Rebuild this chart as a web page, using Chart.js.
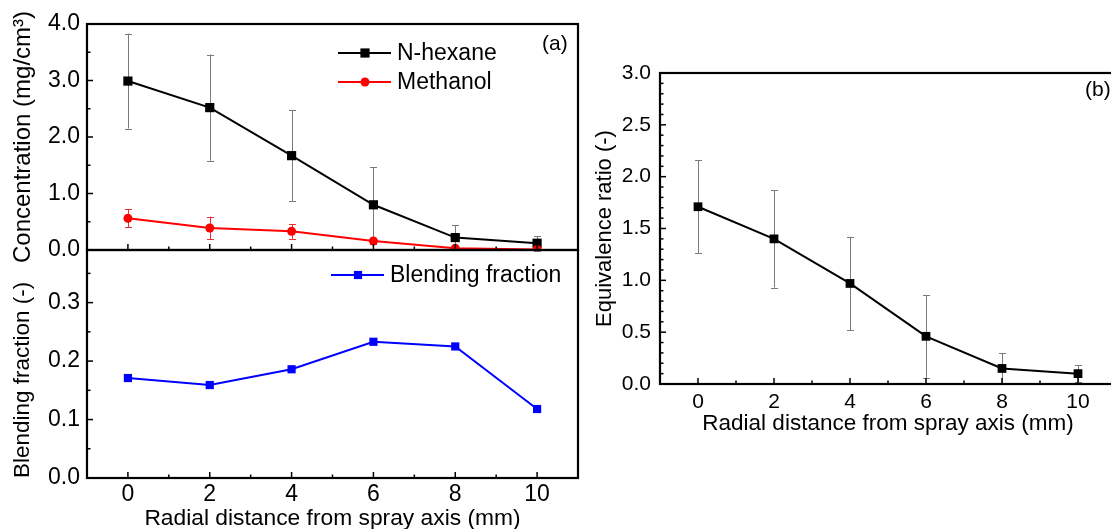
<!DOCTYPE html>
<html>
<head>
<meta charset="utf-8">
<script src="https://cdn.jsdelivr.net/npm/chart.js@4.4.1/dist/chart.umd.min.js"></script>
<style>
  html, body { margin: 0; padding: 0; background: #fff; }
  body { position: relative; width: 1111px; height: 529px; overflow: hidden; }
  canvas { position: absolute; }
</style>
</head>
<body>
<canvas id="conc" width="600" height="270" style="left:0;top:0"></canvas>
<canvas id="blend" width="600" height="289" style="left:0;top:240px"></canvas>
<canvas id="equiv" width="560" height="440" style="left:580px;top:0"></canvas>
<script>
const radial = [0, 2, 4, 6, 8, 10];
const nHexane = [2.99, 2.52, 1.67, 0.80, 0.22, 0.12];
const nHexaneErr = [0.84, 0.94, 0.81, 0.67, 0.22, 0.13];
const methanol = [0.56, 0.39, 0.33, 0.16, 0.03, 0.01];
const methanolErr = [0.16, 0.20, 0.13, 0.06, 0.02, 0.02];
const blending = [0.171, 0.159, 0.186, 0.233, 0.225, 0.118];
const equivalence = [1.71, 1.40, 0.97, 0.46, 0.15, 0.10];
const equivalenceErr = [0.45, 0.47, 0.45, 0.40, 0.15, 0.08];

const xTicks = [0, 2, 4, 6, 8, 10];
const concTicks = [0, 1, 2, 3, 4];
const blendTicks = [0, 0.1, 0.2, 0.3];
const equivTicks = [0, 0.5, 1, 1.5, 2, 2.5, 3];

const FONT = "'Liberation Sans', Arial, sans-serif";
const pts = (ys) => radial.map((x, i) => ({ x, y: ys[i] }));

// error bars, inward ticks, frame, legend and panel tag
const decor = {
  id: 'decor',
  beforeDatasetsDraw(chart, args, o) {
    const ctx = chart.ctx;
    chart.data.datasets.forEach((ds, di) => {
      if (!ds.errors) return;
      const meta = chart.getDatasetMeta(di);
      const ys = chart.scales[meta.yAxisID];
      ctx.save();
      ctx.strokeStyle = ds.errorColor;
      ctx.lineWidth = 1;
      meta.data.forEach((p, i) => {
        const v = ds.data[i].y, e = ds.errors[i];
        const t = ys.getPixelForValue(v + e), b = ys.getPixelForValue(v - e);
        const x = Math.round(p.x) + 0.5;
        ctx.beginPath();
        ctx.moveTo(x, t); ctx.lineTo(x, b);
        ctx.moveTo(x - 3.5, Math.round(t) + 0.5); ctx.lineTo(x + 3.5, Math.round(t) + 0.5);
        ctx.moveTo(x - 3.5, Math.round(b) + 0.5); ctx.lineTo(x + 3.5, Math.round(b) + 0.5);
        ctx.stroke();
      });
      ctx.restore();
    });
  },
  afterDraw(chart, args, o) {
    const ctx = chart.ctx;
    const a = chart.chartArea;
    const xs = chart.scales.x, ys = chart.scales.y;
    ctx.save();
    ctx.strokeStyle = '#000';
    // minor + major ticks, pointing inward
    const tickSet = (scale, majors, div) => {
      const step = (majors[1] - majors[0]) / div;
      const out = [];
      for (let k = -50; k <= 200; k++) {
        const v = majors[0] + k * step;
        if (v < scale.min - 1e-9 || v > scale.max + 1e-9) continue;
        out.push({ v, major: k % div === 0 });
      }
      return out;
    };
    ctx.lineWidth = 1.5;
    tickSet(xs, o.xMajor, 2).forEach(t => {
      const px = xs.getPixelForValue(t.v);
      ctx.beginPath();
      ctx.moveTo(px, a.bottom);
      ctx.lineTo(px, a.bottom - (t.major ? 6 : 3.5));
      ctx.stroke();
    });
    tickSet(ys, o.yMajor, o.yDiv).forEach(t => {
      const py = ys.getPixelForValue(t.v);
      ctx.beginPath();
      ctx.moveTo(a.left, py);
      ctx.lineTo(a.left + (t.major ? 6 : 3.5), py);
      ctx.stroke();
    });
    // frame
    ctx.lineWidth = 2.2;
    ctx.strokeRect(a.left, a.top, a.right - a.left, a.bottom - a.top);
    // legend
    (o.legend || []).forEach(l => {
      const ds = chart.data.datasets[l.ds];
      ctx.strokeStyle = ds.borderColor;
      ctx.fillStyle = ds.borderColor;
      ctx.lineWidth = 2;
      ctx.beginPath();
      ctx.moveTo(l.x - 27, l.y); ctx.lineTo(l.x + 26, l.y);
      ctx.stroke();
      const r = ds.pointRadius;
      ctx.beginPath();
      if (ds.pointStyle === 'circle') {
        ctx.arc(l.x, l.y, r, 0, Math.PI * 2);
      } else {
        const s = r * Math.SQRT1_2;
        ctx.rect(l.x - s, l.y - s, 2 * s, 2 * s);
      }
      ctx.fill();
      ctx.fillStyle = '#000';
      ctx.font = '23px ' + FONT;
      ctx.textBaseline = 'middle';
      ctx.textAlign = 'left';
      ctx.fillText(ds.label, l.x + 32, l.y + 1);
    });
    if (o.tag) {
      ctx.fillStyle = '#000';
      ctx.font = '21px ' + FONT;
      ctx.textBaseline = 'middle';
      ctx.textAlign = 'left';
      ctx.fillText(o.tag.text, o.tag.x, o.tag.y);
    }
    ctx.restore();
  }
};

function makeOptions(cfg) {
  return {
    responsive: false,
    animation: false,
    layout: { padding: cfg.padding },
    plugins: { legend: { display: false }, tooltip: { enabled: false }, decor: cfg.decor },
    scales: {
      x: {
        type: 'linear', min: -1, max: 11,
        display: cfg.xDisplay,
        afterBuildTicks: (s) => { s.ticks = xTicks.map(v => ({ value: v })); },
        afterFit: (s) => { s.height = cfg.xHeight; s.paddingLeft = 0; s.paddingRight = 0; },
        grid: { display: false, drawTicks: false },
        border: { display: false },
        ticks: { color: '#000', padding: cfg.xPad, font: { family: FONT, size: cfg.tickSize } },
        title: {
          display: true, text: 'Radial distance from spray axis (mm)', color: '#000',
          font: { family: FONT, size: cfg.xTitleSize, lineHeight: cfg.xTitleLH }, padding: { top: 0, bottom: cfg.xTitlePad }
        }
      },
      y: {
        min: cfg.yMin, max: cfg.yMax,
        afterBuildTicks: (s) => { s.ticks = cfg.yTicks.map(v => ({ value: v })); },
        afterFit: (s) => { s.width = cfg.yWidth; s.paddingTop = 0; s.paddingBottom = 0; },
        grid: { display: false, drawTicks: false },
        border: { display: false },
        ticks: { color: '#000', padding: cfg.yPad, font: { family: FONT, size: cfg.tickSize },
                 callback: (v) => v.toFixed(1) },
        title: {
          display: true, text: cfg.yTitle, color: '#000', align: cfg.yTitleAlign,
          font: { family: FONT, size: cfg.yTitleSize }, padding: { top: cfg.yTitlePad, bottom: 0 }
        }
      }
    }
  };
}

const lineDs = (label, data, color, style, radius, extra) => Object.assign({
  label, data, borderColor: color, backgroundColor: color,
  borderWidth: 2, pointStyle: style, pointRadius: radius, pointBorderWidth: 0, tension: 0
}, extra);

new Chart(document.getElementById('conc'), {
  type: 'line',
  data: {
    datasets: [
      lineDs('Methanol', pts(methanol), '#ff0000', 'circle', 4.5, { errors: methanolErr, errorColor: '#e53030' }),
      lineDs('N-hexane', pts(nHexane), '#000000', 'rect', 6.5, { errors: nHexaneErr, errorColor: '#7a7a7a' })
    ]
  },
  options: makeOptions({
    padding: { top: 24, right: 22, bottom: 20, left: 0 },
    xDisplay: false, xHeight: 0, xPad: 0, xTitleLH: 1.2, xTitlePad: 0, xTitleSize: 23, tickSize: 23,
    yMin: 0, yMax: 4, yTicks: concTicks, yWidth: 87, yPad: 7, yTitlePad: 9,
    yTitle: 'Concentration (mg/cm³)', yTitleSize: 24, yTitleAlign: 'center',
    decor: {
      xMajor: xTicks, yMajor: concTicks, yDiv: 2,
      legend: [{ ds: 1, x: 365, y: 53 }, { ds: 0, x: 365, y: 82 }],
      tag: { text: '(a)', x: 542, y: 44 }
    }
  }),
  plugins: [decor]
});

new Chart(document.getElementById('blend'), {
  type: 'line',
  data: {
    datasets: [
      lineDs('Blending fraction', pts(blending), '#0000ff', 'rect', 5.8)
    ]
  },
  options: makeOptions({
    padding: { top: 10, right: 22, bottom: 0, left: 0 },
    xDisplay: true, xHeight: 51, xPad: 3, xTitleLH: 0.9, xTitlePad: 0, xTitleSize: 22.8, tickSize: 23,
    yMin: 0, yMax: 0.39, yTicks: blendTicks, yWidth: 87, yPad: 7, yTitlePad: 9,
    yTitle: 'Blending fraction (-)', yTitleSize: 22.5, yTitleAlign: 'start',
    decor: {
      xMajor: xTicks, yMajor: blendTicks, yDiv: 2,
      legend: [{ ds: 0, x: 358, y: 35 }]
    }
  }),
  plugins: [decor]
});

new Chart(document.getElementById('equiv'), {
  type: 'line',
  data: {
    datasets: [
      lineDs('Equivalence ratio', pts(equivalence), '#000000', 'rect', 6.2, { errors: equivalenceErr, errorColor: '#7a7a7a' })
    ]
  },
  options: makeOptions({
    padding: { top: 73, right: 24, bottom: 0, left: 0 },
    xDisplay: true, xHeight: 56, xPad: 6, xTitleLH: 1.2, xTitlePad: 3, xTitleSize: 22.5, tickSize: 21,
    yMin: 0, yMax: 3, yTicks: equivTicks, yWidth: 80, yPad: 9, yTitlePad: 12,
    yTitle: 'Equivalence ratio (-)', yTitleSize: 22, yTitleAlign: 'center',
    decor: {
      xMajor: xTicks, yMajor: equivTicks, yDiv: 5,
      tag: { text: '(b)', x: 505, y: 90 }
    }
  }),
  plugins: [decor]
});
</script>
</body>
</html>
